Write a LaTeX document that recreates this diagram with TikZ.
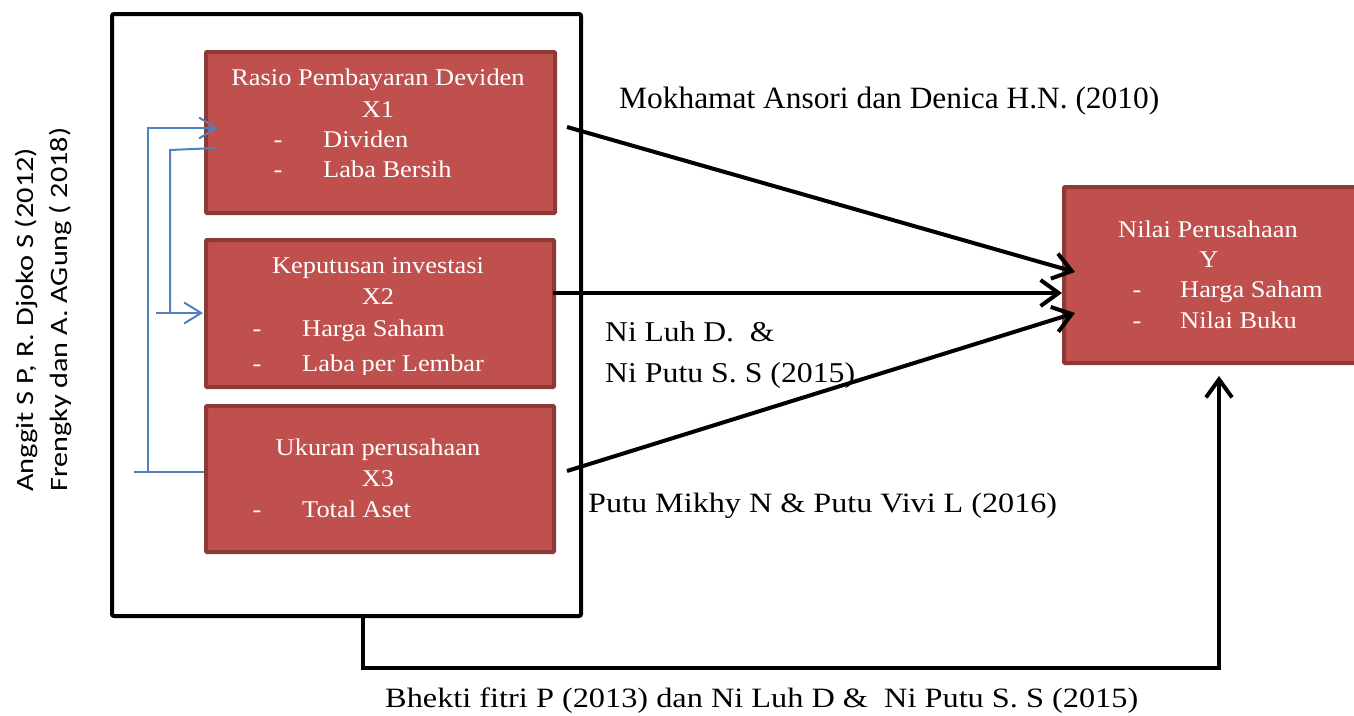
\documentclass[tikz,border=0pt]{standalone}
\usepackage{fontspec}
\usepackage{graphicx}
\setmainfont{Liberation Serif}
\newfontfamily\carlitofont{Carlito}
\usetikzlibrary{arrows.meta}
\definecolor{boxred}{HTML}{C0504D}
\definecolor{boxedge}{HTML}{8C3A38}
\definecolor{blueline}{HTML}{4F81BD}
\frenchspacing
\newcommand{\bt}[1]{\scalebox{1.1}[1]{\fontsize{24}{28}\selectfont #1}}
\newcommand{\fitw}[3]{\resizebox{#1}{\height}{\fontsize{#2}{#2}\selectfont #3}}
\begin{document}
\begin{tikzpicture}[x=1pt,y=-1pt,
  redbox/.style={draw=boxedge, fill=boxred, line width=4pt, inner sep=0pt, anchor=north west, rounded corners=1pt},
  boxtext/.style={text=white, inner sep=0pt, anchor=base},
  itemtext/.style={text=white, inner sep=0pt, anchor=base west},
  reflabel/.style={text=black, inner sep=0pt, anchor=base west},
  blk/.style={line width=4pt, black, line join=miter},
  blkarrow/.style={blk, -{Straight Barb[length=18pt,width=26pt]}},
  blu/.style={line width=2pt, blueline},
  bluarrow/.style={blu, -{Straight Barb[length=17pt,width=21pt]}},
]
\useasboundingbox (0,0) rectangle (1354,715);

% outer frame
\node[draw, line width=4pt, minimum width=469pt, minimum height=602pt, anchor=north west, inner sep=0pt, rounded corners=2pt] (outer) at (110,12) {};

% red boxes
\node[redbox, minimum width=349pt, minimum height=161pt] (b1) at (204,50) {};
\node[redbox, minimum width=348pt, minimum height=147pt] (b2) at (204,238) {};
\node[redbox, minimum width=348pt, minimum height=146pt] (b3) at (204,404) {};
\node[redbox, minimum width=300pt, minimum height=176pt] (by) at (1062,185) {};

% box 1 text
\node[boxtext] (t1a) at (378,85) {\bt{Rasio Pembayaran Deviden}};
\node[boxtext] (t1b) at (378,117) {\bt{X1}};
\node[boxtext] (d1a) at (278,147) {\bt{-}};
\node[itemtext] (i1a) at (323,147) {\bt{Dividen}};
\node[boxtext] (d1b) at (278,177) {\bt{-}};
\node[itemtext] (i1b) at (323,177) {\bt{Laba Bersih}};

% box 2 text
\node[boxtext] (t2a) at (378,273) {\bt{Keputusan investasi}};
\node[boxtext] (t2b) at (378,304) {\bt{X2}};
\node[boxtext] (d2a) at (257,336) {\bt{-}};
\node[itemtext] (i2a) at (302,336) {\bt{Harga Saham}};
\begin{scope}
\clip (210,345) rectangle (548,374);
\node[boxtext] (d2b) at (257,371) {\bt{-}};
\node[itemtext] (i2b) at (302,371) {\bt{Laba per Lembar}};
\end{scope}

% box 3 text
\node[boxtext] (t3a) at (378,455) {\bt{Ukuran perusahaan}};
\node[boxtext] (t3b) at (378,486) {\bt{X3}};
\node[boxtext] (d3a) at (257,517) {\bt{-}};
\node[itemtext] (i3a) at (302,517) {\bt{Total Aset}};

% box Y text
\node[boxtext] (tya) at (1208,237) {\bt{Nilai Perusahaan}};
\node[boxtext] (tyb) at (1209,267) {\bt{Y}};
\node[boxtext] (dya) at (1137,297) {\bt{-}};
\node[itemtext] (iya) at (1180,297) {\bt{Harga Saham}};
\node[boxtext] (dyb) at (1137,328) {\bt{-}};
\node[itemtext] (iyb) at (1180,328) {\bt{Nilai Buku}};

% black connectors
\coordinate (s1) at (567,127);
\coordinate (e1) at (1075,272);
\coordinate (s2) at (553,293);
\coordinate (e2) at (1062,293);
\coordinate (s3) at (567,471);
\coordinate (e3) at (1075,313);
\coordinate (s4) at (363,614);
\coordinate (k4a) at (363,668);
\coordinate (k4b) at (1219,668);
\coordinate (e4) at (1219,376);
\draw[blkarrow] (s1) -- (e1);
\draw[blkarrow] (s2) -- (e2);
\draw[blkarrow] (s3) -- (e3);
\draw[blkarrow] (s4) -- (k4a) -- (k4b) -- (e4);

% blue connectors
\coordinate (ba0) at (134,472);
\coordinate (ba1) at (204,472);
\coordinate (ba2) at (148,472);
\coordinate (ba3) at (148,128);
\coordinate (ba4) at (218,128);
\coordinate (bb0) at (156,313);
\coordinate (bb1) at (203,313);
\coordinate (bb2) at (170,313);
\coordinate (bb3) at (170,150);
\coordinate (bb4) at (216,148);
\draw[blu] (ba0) -- (ba1);
\draw[bluarrow] (ba2) -- (ba3) -- (ba4);
\draw[bluarrow] (bb0) -- (bb1);
\draw[blu] (bb2) -- (bb3) -- (bb4);

% labels
\node[reflabel] (l1) at (619,108) {\fitw{540pt}{31}{Mokhamat Ansori dan Denica H.N. (2010)}};
\node[reflabel] (l2a) at (605,341) {\scalebox{1.1}[1]{\fontsize{28.7}{30}\selectfont Ni Luh D.~ \&}};
\node[reflabel] (l2b) at (605,382) {\fitw{250pt}{28.7}{Ni Putu S. S (2015)}};
\node[reflabel] (l3) at (588,512) {\fitw{469pt}{28}{Putu Mikhy N \& Putu Vivi L (2016)}};
\node[reflabel] (l4) at (385,707) {\fitw{753pt}{28}{Bhekti fitri P (2013) dan Ni Luh D \&~ Ni Putu S. S (2015)}};

% rotated labels
\node[rotate=90, anchor=base west, inner sep=0pt] (r1) at (33,492) {\fitw{344pt}{25}{\carlitofont Anggit S P, R. Djoko S (2012)}};
\node[rotate=90, anchor=base west, inner sep=0pt] (r2) at (67,492) {\fitw{364pt}{25}{\carlitofont Frengky dan A. AGung ( 2018)}};
\end{tikzpicture}
\end{document}
